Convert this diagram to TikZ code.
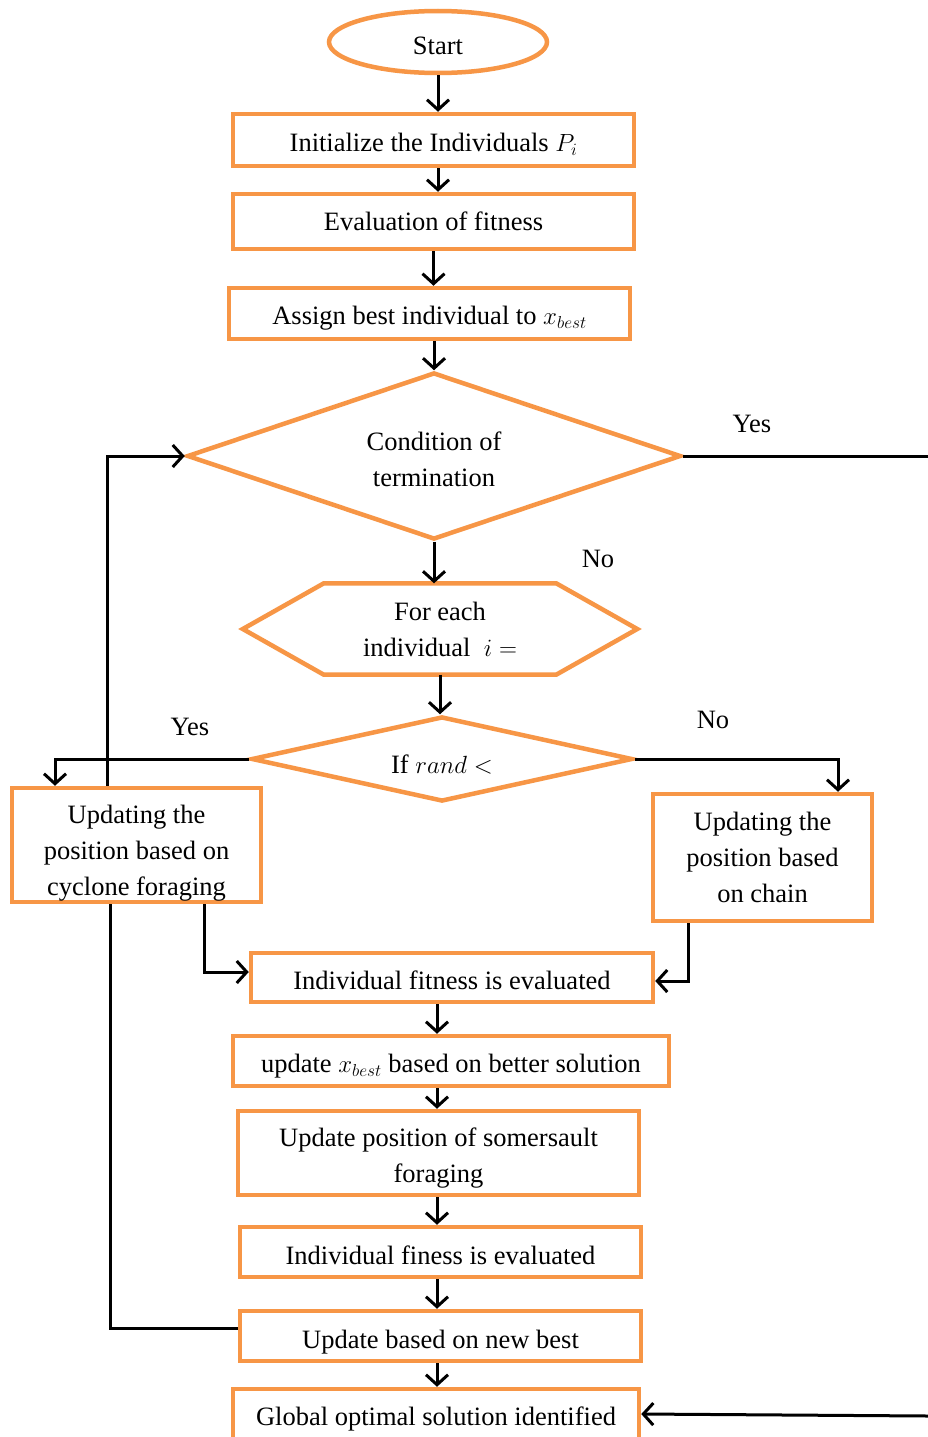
\documentclass[tikz,border=0pt]{standalone}
\usepackage{fontspec}
\setmainfont{Liberation Serif}
\usetikzlibrary{arrows.meta,shapes.geometric,calc}
\definecolor{boxorange}{RGB}{247,150,70}
\begin{document}
\begin{tikzpicture}[x=1pt,y=-1pt,
  every node/.style={font=\fontsize{26.5}{36}\selectfont},
  box/.style={draw=boxorange, line width=4.5pt, rectangle, inner sep=0pt},
  txt/.style={align=center, inner sep=0pt},
  conn/.style={line width=3pt, draw=black},
  arr/.style={conn, -{Straight Barb[length=10pt,width=22pt]}}]
\useasboundingbox[fill=white] (0,0) rectangle (928,1437);

% shapes
\node[ellipse, draw=boxorange, line width=4.5pt, minimum width=218, minimum height=62, inner sep=0pt] (start) at (438,42) {};
\node[txt] (startt) at (438,46) {Start};
\node[box, minimum width=401, minimum height=52] (b1) at (433.5,140) {};
\node[txt] (b1t) at (433.5,144) {Initialize the Individuals $P_i$};
\node[box, minimum width=401, minimum height=55] (b2) at (433.5,221.5) {};
\node[txt] (b2t) at (433.5,221.5) {Evaluation of fitness};
\node[box, minimum width=401, minimum height=51] (b3) at (429.5,313.5) {};
\node[txt] (b3t) at (429.5,318.5) {Assign best individual to $x_{best}$};
\node[diamond, draw=boxorange, line width=4.5pt, aspect=3, inner sep=0pt,
      minimum width=494, minimum height=167] (d1) at (434,456) {};
\node[txt] (d1t) at (434,459.5) {Condition of\\termination};
\node[txt, minimum width=394, minimum height=91] (hex) at (440,629) {For each\\individual~~$i =$};
\draw[boxorange, line width=4.5pt, line join=miter]
  (hex.west) -- ($(hex.north west)+(81,0)$) -- ($(hex.north east)+(-81,0)$) -- (hex.east)
  -- ($(hex.south east)+(-81,0)$) -- ($(hex.south west)+(81,0)$) -- cycle;
\node[diamond, draw=boxorange, line width=4.5pt, aspect=4.5, inner sep=0pt,
      minimum width=381, minimum height=85] (d2) at (442,759) {};
\node[txt] (d2t) at (442,764) {If $rand <$};
\node[box, minimum width=249, minimum height=114] (L) at (136.5,845) {};
\node[txt] (Lt) at (136.5,853) {Updating the\\position based on\\cyclone foraging};
\node[box, minimum width=219, minimum height=127] (R) at (762.5,857.5) {};
\node[txt] (Rt) at (762.5,857.5) {Updating the\\position based\\on chain};
\node[box, minimum width=402, minimum height=49] (f1) at (452,977.5) {};
\node[txt] (f1t) at (452,980.5) {Individual fitness is evaluated};
\node[box, minimum width=436, minimum height=50] (u1) at (451,1061) {};
\node[txt] (u1t) at (451,1066) {update $x_{best}$ based on better solution};
\node[box, minimum width=401, minimum height=84] (s1) at (438.5,1153) {};
\node[txt] (s1t) at (438.5,1158) {Update position of somersault\\foraging};
\node[box, minimum width=401, minimum height=50] (f2) at (440.5,1252) {};
\node[txt] (f2t) at (440.5,1255) {Individual finess is evaluated};
\node[box, minimum width=401, minimum height=50] (u2) at (440.5,1336) {};
\node[txt] (u2t) at (440.5,1342) {Update based on new best};
\node[box, minimum width=406, minimum height=56] (g) at (436,1417) {};
\node[txt] (gt) at (436,1419) {Global optimal solution identified};

% labels
\node (yes1) at (752,424) {Yes};
\node (no1) at (598,559) {No};
\node (yes2) at (190,727) {Yes};
\node (no2) at (713,720) {No};

% helper coordinates
\coordinate (cx) at (437,0);
\coordinate (re) at (928,456);
\coordinate (rb) at (928,1416);

% connectors
\draw[arr] (start.south) -- (start.south |- b1.north);
\draw[arr] (b1.south -| start.south) -- (start.south |- b2.north);
\draw[arr] (b2.south) -- (b2.south |- b3.north);
\draw[arr] (b3.south -| d1.north) -- (d1.north);
\draw[arr] (d1.south) -- (d1.south |- hex.north);
\draw[arr] (hex.south) -- (hex.south |- d2.north);
\draw[arr] (d2.west) -| ([xshift=-81.5pt]L.north);
\draw[arr] (d2.east) -| ([xshift=75.5pt]R.north);
\draw[arr] ([xshift=-29.5pt]L.north) |- (d1.west);
\draw[arr] ([xshift=67.5pt]L.south) |- ([yshift=5.5pt]f1.west);
\draw[arr] ([xshift=-74.5pt]R.south) |- ([yshift=-3.5pt]f1.east);
\draw[conn] ([xshift=-26.5pt]L.south) |- ([yshift=8pt]u2.west);
\draw[arr] (f1.south -| cx) -- (u1.north -| cx);
\draw[arr] (u1.south -| cx) -- (s1.north -| cx);
\draw[arr] (s1.south -| cx) -- (f2.north -| cx);
\draw[arr] (f2.south -| cx) -- (u2.north -| cx);
\draw[arr] (u2.south -| cx) -- (g.north -| cx);
\draw[conn] (d1.east) -- (re);
\draw[arr] (rb) -- ([yshift=3pt]g.east);
\end{tikzpicture}
\end{document}
